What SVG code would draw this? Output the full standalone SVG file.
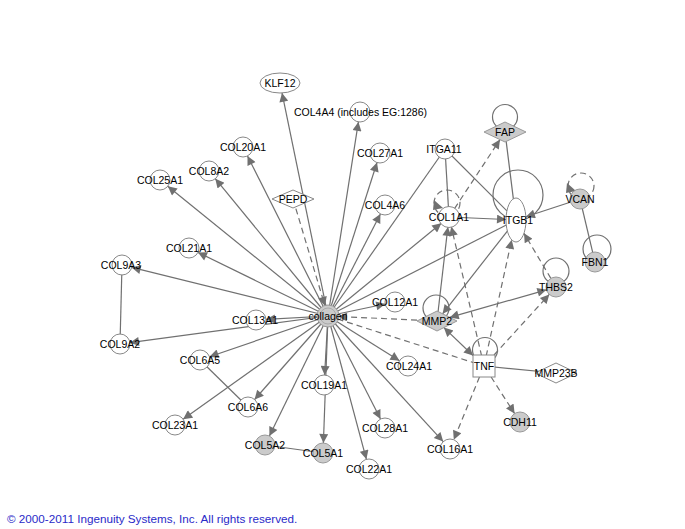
<svg xmlns="http://www.w3.org/2000/svg" width="685" height="529" viewBox="0 0 685 529">
<style>
.e{stroke:#707070;stroke-width:1.2;fill:none}
.d{stroke-dasharray:6,4}
.ar{marker-end:url(#a)}
.ab{marker-end:url(#a);marker-start:url(#a)}
.n{fill:#fff;stroke:#888;stroke-width:1}
.g{fill:#cbcbcb;stroke:#999;stroke-width:1}
.t{font-family:"Liberation Sans",Arial,sans-serif;font-size:10.5px;fill:#000;text-anchor:middle;dominant-baseline:central}
.lp{fill:none;stroke:#707070;stroke-width:1.2}
</style>
<defs>
<marker id="a" viewBox="0 0 10 10" refX="10" refY="5" markerWidth="11" markerHeight="9" markerUnits="userSpaceOnUse" orient="auto-start-reverse"><path d="M0,0 L10,5 L0,10 z" fill="#707070"/></marker>
</defs>
<rect width="685" height="529" fill="#fff"/>
<g id="connectors">
<line class="e ar" x1="328" y1="316" x2="282" y2="92.9"/>
<line class="e ar" x1="328" y1="316" x2="358.4" y2="121.9"/>
<line class="e ar" x1="328" y1="316" x2="247.5" y2="155.9"/>
<line class="e ar" x1="328" y1="316" x2="215.3" y2="178.7"/>
<line class="e ar" x1="328" y1="316" x2="167.8" y2="186.3"/>
<line class="e ar" x1="328" y1="316" x2="377" y2="162.5"/>
<line class="e ar" x1="328" y1="316" x2="380.4" y2="213.9"/>
<line class="e ar" x1="328" y1="316" x2="198" y2="252.4"/>
<line class="e ar" x1="328" y1="316" x2="131.7" y2="267.4"/>
<line class="e ar" x1="328" y1="316" x2="129.9" y2="342.7"/>
<line class="e ar" x1="328" y1="316" x2="266" y2="319.4"/>
<line class="e ar" x1="328" y1="316" x2="385.2" y2="304"/>
<line class="e ar" x1="328" y1="316" x2="441.3" y2="223.3"/>
<line class="e ar" x1="328" y1="316" x2="399.5" y2="360.7"/>
<line class="e ar" x1="328" y1="316" x2="324.6" y2="375"/>
<line class="e ar" x1="328" y1="316" x2="323.4" y2="443"/>
<line class="e ar" x1="328" y1="316" x2="380.5" y2="419.1"/>
<line class="e ar" x1="328" y1="316" x2="366.4" y2="459.3"/>
<line class="e ar" x1="328" y1="316" x2="443.2" y2="441.6"/>
<line class="e ar" x1="328" y1="316" x2="269.4" y2="436"/>
<line class="e ar" x1="328" y1="316" x2="254.6" y2="399.5"/>
<line class="e ar" x1="328" y1="316" x2="183.1" y2="419.2"/>
<line class="e ar" x1="328" y1="316" x2="209.5" y2="356.8"/>
<line class="e" x1="328" y1="316" x2="445" y2="149"/>
<line class="e" x1="328" y1="316" x2="516" y2="220"/>
<line class="e d ar" x1="293" y1="199" x2="325" y2="305.9"/>
<line class="e d ar" x1="437" y1="321" x2="338" y2="316.5"/>
<line class="e d" x1="328" y1="316" x2="484" y2="366"/>
<line class="e" x1="122" y1="265" x2="120" y2="344"/>
<line class="e" x1="200" y1="360" x2="248" y2="407"/>
<line class="e" x1="265" y1="445" x2="323" y2="453"/>
<line class="e" x1="445" y1="149" x2="449" y2="217"/>
<line class="e" x1="445" y1="149" x2="516" y2="220"/>
<line class="e" x1="505" y1="132" x2="516" y2="220"/>
<line class="e" x1="580" y1="199" x2="595" y2="262"/>
<line class="e" x1="484" y1="366" x2="556" y2="373"/>
<line class="e ar" x1="437" y1="321" x2="447.9" y2="226.9"/>
<line class="e d ar" x1="484" y1="366" x2="451.3" y2="226.7"/>
<line class="e ar" x1="449" y1="217" x2="506" y2="219.5"/>
<line class="e d ar" x1="454.5" y1="208.6" x2="500" y2="139.6"/>
<line class="e ar" x1="580" y1="199" x2="525.9" y2="216.8"/>
<line class="e ar" x1="516" y1="220" x2="442.6" y2="313.8"/>
<line class="e d ar" x1="556" y1="287" x2="524" y2="233.3"/>
<line class="e d ar" x1="484" y1="366" x2="511.7" y2="239.8"/>
<line class="e ab" x1="449.7" y1="317.4" x2="546.4" y2="289.8"/>
<line class="e ab" x1="443.9" y1="327.6" x2="473" y2="355.5"/>
<line class="e d ar" x1="494" y1="355" x2="549.3" y2="294.4"/>
<line class="e d ar" x1="479.5" y1="377" x2="453.8" y2="439.8"/>
<line class="e d ar" x1="491.1" y1="377" x2="514.6" y2="413.6"/>
<circle class="lp" cx="505" cy="117" r="12.5"/>
<circle class="lp" cx="518" cy="195" r="25"/>
<circle class="lp" cx="597" cy="249" r="14"/>
<circle class="lp" cx="556" cy="271" r="13"/>
<circle class="lp" cx="436" cy="308" r="13"/>
<circle class="lp" cx="485" cy="350" r="12.5"/>
<circle class="lp d" cx="447" cy="203" r="13"/>
<circle class="lp d" cx="581" cy="186" r="13"/>
<polygon points="434,200 443,208 433,210" fill="#707070"/>
<polygon points="567,183 576,191 566,193" fill="#707070"/>
</g>
<g id="collagen"><circle class="g" cx="328" cy="316" r="11"/><circle cx="328" cy="316" r="8" fill="none" stroke="#aaa"/><text class="t" x="328" y="316">collagen</text></g>
<g id="KLF12"><ellipse class="n" cx="280" cy="83" rx="20" ry="10"/><text class="t" x="280" y="83">KLF12</text></g>
<g id="COL4A4"><circle class="n" cx="360" cy="112" r="10"/><text class="t" x="360.5" y="112">COL4A4 (includes EG:1286)</text></g>
<g id="COL20A1"><circle class="n" cx="243" cy="147" r="10"/><text class="t" x="243" y="147">COL20A1</text></g>
<g id="COL8A2"><circle class="n" cx="209" cy="171" r="10"/><text class="t" x="209" y="171">COL8A2</text></g>
<g id="COL25A1"><circle class="n" cx="160" cy="180" r="10"/><text class="t" x="160" y="180">COL25A1</text></g>
<g id="PEPD"><polygon class="n" points="272,199 293,190 314,199 293,208"/><text class="t" x="293" y="199">PEPD</text></g>
<g id="COL27A1"><circle class="n" cx="380" cy="153" r="10"/><text class="t" x="380" y="153">COL27A1</text></g>
<g id="ITGA11"><circle class="n" cx="445" cy="149" r="10"/><text class="t" x="444" y="149">ITGA11</text></g>
<g id="COL4A6"><circle class="n" cx="385" cy="205" r="10"/><text class="t" x="385" y="205">COL4A6</text></g>
<g id="COL1A1"><circle class="n" cx="449" cy="217" r="10.5"/><text class="t" x="449" y="217">COL1A1</text></g>
<g id="FAP"><polygon class="g" points="484,132 505,122 526,132 505,142"/><text class="t" x="505" y="132">FAP</text></g>
<g id="ITGB1"><ellipse class="n" cx="516" cy="220" rx="10" ry="22"/><text class="t" x="518" y="220">ITGB1</text></g>
<g id="VCAN"><circle class="g" cx="580" cy="199" r="10"/><text class="t" x="580" y="199">VCAN</text></g>
<g id="FBN1"><circle class="g" cx="595" cy="262" r="10"/><text class="t" x="595" y="262">FBN1</text></g>
<g id="COL21A1"><circle class="n" cx="189" cy="248" r="10"/><text class="t" x="189" y="248">COL21A1</text></g>
<g id="COL9A3"><circle class="n" cx="122" cy="265" r="10"/><text class="t" x="121" y="265">COL9A3</text></g>
<g id="COL9A2"><circle class="n" cx="120" cy="344" r="10"/><text class="t" x="120" y="344">COL9A2</text></g>
<g id="COL13A1"><circle class="n" cx="256" cy="320" r="10"/><text class="t" x="255" y="320">COL13A1</text></g>
<g id="COL12A1"><circle class="n" cx="395" cy="302" r="10"/><text class="t" x="395" y="302">COL12A1</text></g>
<g id="THBS2"><circle class="g" cx="556" cy="287" r="10"/><text class="t" x="556" y="287">THBS2</text></g>
<g id="MMP2"><polygon class="g" points="417,321 437,311 457,321 437,331"/><text class="t" x="437" y="321">MMP2</text></g>
<g id="TNF"><rect class="n" x="473" y="355" width="22" height="22"/><text class="t" x="484" y="366">TNF</text></g>
<g id="MMP23B"><polygon class="n" points="535,373 556,363 577,373 556,383"/><text class="t" x="556" y="373">MMP23B</text></g>
<g id="COL24A1"><circle class="n" cx="408" cy="366" r="10"/><text class="t" x="409" y="366">COL24A1</text></g>
<g id="COL19A1"><circle class="n" cx="324" cy="385" r="10"/><text class="t" x="324" y="385">COL19A1</text></g>
<g id="COL6A5"><circle class="n" cx="200" cy="360" r="10"/><text class="t" x="200" y="360">COL6A5</text></g>
<g id="COL6A6"><circle class="n" cx="248" cy="407" r="10"/><text class="t" x="248" y="407">COL6A6</text></g>
<g id="COL23A1"><circle class="n" cx="175" cy="425" r="10"/><text class="t" x="175" y="425">COL23A1</text></g>
<g id="COL5A2"><circle class="g" cx="265" cy="445" r="10"/><text class="t" x="265" y="445">COL5A2</text></g>
<g id="COL5A1"><circle class="g" cx="323" cy="453" r="10"/><text class="t" x="323" y="453">COL5A1</text></g>
<g id="COL28A1"><circle class="n" cx="385" cy="428" r="10"/><text class="t" x="385" y="428">COL28A1</text></g>
<g id="COL22A1"><circle class="n" cx="369" cy="469" r="10"/><text class="t" x="369" y="469">COL22A1</text></g>
<g id="COL16A1"><circle class="n" cx="450" cy="449" r="10"/><text class="t" x="450" y="449">COL16A1</text></g>
<g id="CDH11"><circle class="g" cx="520" cy="422" r="10"/><text class="t" x="520" y="422">CDH11</text></g>
<text x="7" y="523" font-family="Liberation Sans, Arial, sans-serif" font-size="11.7" fill="#2a2ac8">© 2000-2011 Ingenuity Systems, Inc. All rights reserved.</text>
</svg>
